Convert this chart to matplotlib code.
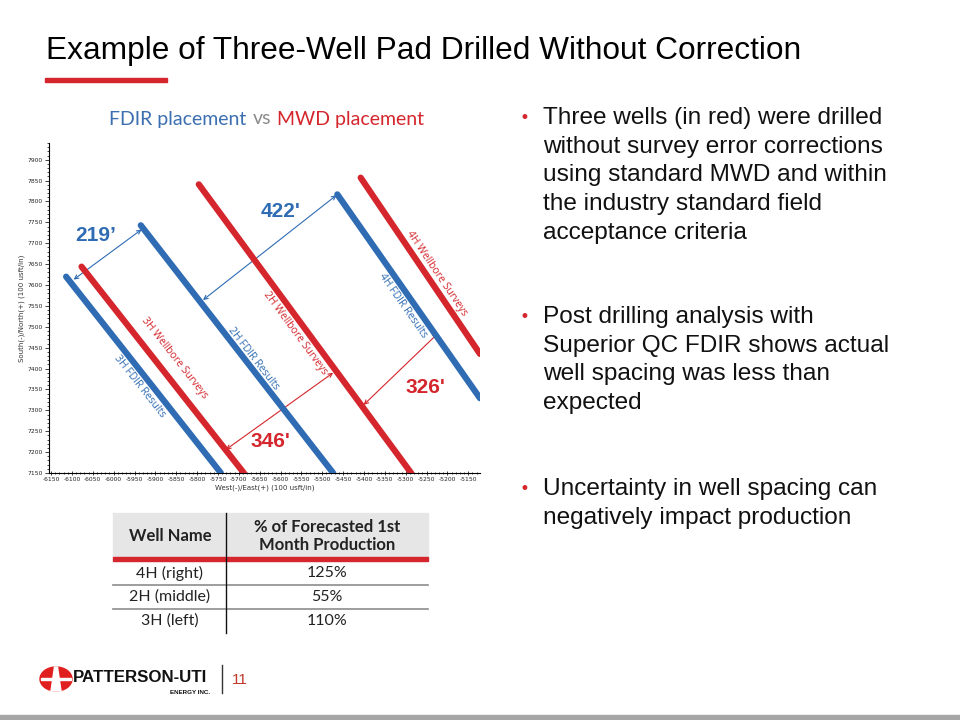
import matplotlib
matplotlib.use("Agg")
import matplotlib.pyplot as plt
from matplotlib.ticker import MultipleLocator
from matplotlib.patches import Rectangle, Circle, Polygon
import numpy as np

plt.rcParams["axes.unicode_minus"] = False

# well paths (start x, start y, end x, end y)
well_names = ["3H FDIR Results", "3H Wellbore Surveys", "2H FDIR Results",
              "2H Wellbore Surveys", "4H FDIR Results", "4H Wellbore Surveys"]
well_x0 = [-6114, -6077, -5935, -5796, -5464, -5408]
well_y0 = [7620, 7644, 7743, 7841, 7817, 7857]
well_x1 = [-5743, -5688, -5474, -5287, -5122, -5122]
well_y1 = [7150, 7150, 7150, 7150, 7329, 7435]
well_kind = ["fdir", "mwd", "fdir", "mwd", "fdir", "mwd"]
label_x = [-5937, -5854, -5666, -5565, -5306, -5225]
label_y = [7357, 7425, 7425, 7484, 7550, 7628]

# spacing arrows
gap_labels = ["219\u2019", "422'", "346'", "326'"]
gap_kind = ["fdir", "fdir", "mwd", "mwd"]
gap_x0 = [-6096, -5786, -5731, -5401]
gap_y0 = [7613, 7564, 7206, 7313]
gap_x1 = [-5933, -5466, -5474, -5223]
gap_y1 = [7733, 7815, 7390, 7484]
gap_tx = [-6043, -5601, -5624, -5253]
gap_ty = [7719, 7775, 7226, 7355]

# table
table_wells = ["4H (right)", "2H (middle)", "3H (left)"]
table_pct = ["125%", "55%", "110%"]

bullets = [
    ["Three wells (in red) were drilled", "without survey error corrections",
     "using standard MWD and within", "the industry standard field", "acceptance criteria"],
    ["Post drilling analysis with", "Superior QC FDIR shows actual",
     "well spacing was less than", "expected"],
    ["Uncertainty in well spacing can", "negatively impact production"],
]
bullet_top = [118, 317, 489]

BLUE = "#2f6cb3"
RED = "#d4262c"
colors = {"fdir": BLUE, "mwd": RED}

W, H = 960, 720
fig = plt.figure(figsize=(9.6, 7.2), dpi=100)


def fx(x):
    return x / W


def fy(y):
    return 1 - y / H


# slide title
fig.text(fx(46), fy(51), "Example of Three-Well Pad Drilled Without Correction",
         fontsize=22.8, family="Liberation Sans", va="center", ha="left")
fig.patches.append(Rectangle((fx(45), fy(82)), fx(122), 4 / H, color=RED,
                             transform=fig.transFigure, figure=fig))

# chart title
fig.text(fx(109), fy(119), "FDIR placement", color="#3c6fb0", fontsize=14,
         family="Lato", va="center")
fig.text(fx(253), fy(119), "vs", color="#8a8a8a", fontsize=14, family="Lato", va="center")
fig.text(fx(277), fy(119), "MWD placement", color=RED, fontsize=14, family="Lato", va="center")

# chart
ax = fig.add_axes([fx(49), fy(473), (480 - 49) / W, (473 - 143) / H])
for i in range(len(well_names)):
    c = colors[well_kind[i]]
    ax.plot([well_x0[i], well_x1[i]], [well_y0[i], well_y1[i]], color=c, lw=4.5,
            solid_capstyle="round", zorder=3)
    ang = np.degrees(np.arctan2(well_y1[i] - well_y0[i], well_x1[i] - well_x0[i]))
    ax.text(label_x[i], label_y[i], well_names[i], color=c, fontsize=7.5,
            family="Open Sans", rotation=ang, transform_rotates_text=True,
            rotation_mode="anchor", ha="center", va="center", zorder=4)

for i in range(len(gap_labels)):
    c = colors[gap_kind[i]]
    ax.annotate("", xy=(gap_x1[i], gap_y1[i]), xytext=(gap_x0[i], gap_y0[i]),
                arrowprops=dict(arrowstyle="<->", color=c, lw=0.8,
                                shrinkA=0, shrinkB=0, mutation_scale=7), zorder=2)
    ax.text(gap_tx[i], gap_ty[i], gap_labels[i], color=c, fontsize=15,
            fontweight="bold", family="Liberation Sans", ha="center", va="center")

ax.set_xlim(-6155, -5122)
ax.set_ylim(7150, 7940)
ax.spines["top"].set_visible(False)
ax.spines["right"].set_visible(False)
ax.xaxis.set_minor_locator(MultipleLocator(10))
ax.yaxis.set_minor_locator(MultipleLocator(10))
ax.set_xticks(np.arange(-6150, -5149, 50))
ax.set_yticks(np.arange(7150, 7901, 50))
ax.tick_params(which="major", labelsize=4.3, length=3, width=0.6, colors="#222222",
               pad=1.5)
ax.tick_params(which="minor", length=1.8, width=0.5)
ax.tick_params(axis="x", which="both", direction="inout")
ax.set_xlabel("West(-)/East(+) (100 usft/in)", fontsize=5, labelpad=2, color="#333333")
ax.set_ylabel("South(-)/North(+) (100 usft/in)", fontsize=5, labelpad=2, color="#333333")

# table
tx0, tx1, tmid = 113, 428, 226
fig.patches.append(Rectangle((fx(tx0), fy(557)), (tx1 - tx0) / W, 44 / H,
                             color="#e6e6e6", transform=fig.transFigure, figure=fig))
fig.patches.append(Rectangle((fx(tx0), fy(561)), (tx1 - tx0) / W, 4 / H,
                             color=RED, transform=fig.transFigure, figure=fig))
fig.text(fx(170), fy(536), "Well Name", fontsize=12, fontweight="bold",
         family="Lato", ha="center", va="center", color="#222222")
fig.text(fx(327), fy(536), "% of Forecasted 1st\nMonth Production", fontsize=12,
         fontweight="bold", family="Lato", ha="center", va="center",
         linespacing=1.15, color="#222222")
row_y = [573, 597, 621]
for i in range(len(table_wells)):
    fig.text(fx(170), fy(row_y[i]), table_wells[i], fontsize=11.5, family="Lato",
             ha="center", va="center", color="#222222")
    fig.text(fx(327), fy(row_y[i]), table_pct[i], fontsize=11.5, family="Lato",
             ha="center", va="center", color="#222222")
for yy in [585, 609]:
    fig.add_artist(plt.Line2D([fx(tx0), fx(tx1)], [fy(yy), fy(yy)], color="#8c8c8c", lw=1.2))
fig.add_artist(plt.Line2D([fx(tmid), fx(tmid)], [fy(513), fy(633)], color="#111111", lw=1))

# bullets
for b, lines in enumerate(bullets):
    y = bullet_top[b]
    fig.text(fx(524), fy(y), "\u2022", color=RED, fontsize=12, ha="center", va="center")
    for k, line in enumerate(lines):
        fig.text(fx(543), fy(y + k * 28.7), line, fontsize=17.6, family="Liberation Sans",
                 ha="left", va="center", color="#111111")

# footer logo
fig.patches.append(Circle((fx(56), fy(679)), 16 / W, color="#e0201f",
                          transform=fig.transFigure, figure=fig))
fig.patches.append(Polygon([(fx(51), fy(691)), (fx(61), fy(691)), (fx(57.5), fy(667)),
                            (fx(54.5), fy(667))], closed=True, color="white",
                           transform=fig.transFigure, figure=fig))
fig.patches.append(Rectangle((fx(41), fy(680)), 30 / W, 2 / H, color="white",
                             transform=fig.transFigure, figure=fig))
fig.text(fx(73), fy(677), "PATTERSON-UTI", fontsize=12.2, fontweight="heavy",
         family="Liberation Sans", ha="left", va="center", color="#111111")
fig.text(fx(210), fy(692), "ENERGY INC.", fontsize=4.5, fontweight="bold",
         family="Liberation Sans", ha="right", va="center", color="#111111")
fig.add_artist(plt.Line2D([fx(222), fx(222)], [fy(665), fy(693)], color="#333333", lw=1))
fig.text(fx(232), fy(680), "11", fontsize=11, color="#c0392b", family="Liberation Sans",
         ha="left", va="center")

# bottom bar
fig.patches.append(Rectangle((0, 0), 1, 5 / H, color="#a6a6a6",
                             transform=fig.transFigure, figure=fig))

fig.savefig("out.png", dpi=100)
